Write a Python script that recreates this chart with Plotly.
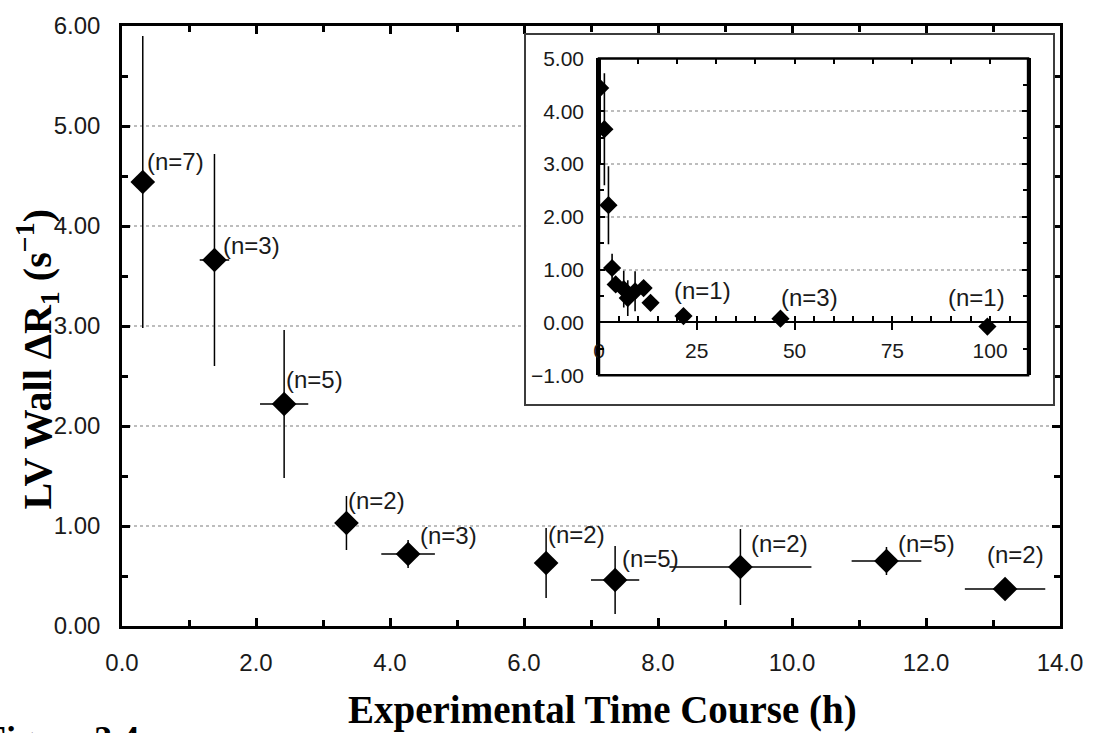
import plotly.graph_objects as go

# Canvas and main plot box (pixels)
W, H = 1095, 733
ML, MR, MT, MB = 122, 33, 16, 107
PW, PH = W - ML - MR, H - MT - MB


def paper_x(px):
    return (px - ML) / PW


def paper_y(py):
    return (H - MB - py) / PH


# LV wall ΔR1 over the experimental time course (mean ± SD)
time_h = [0.31, 1.38, 2.42, 3.35, 4.27, 6.33, 7.36, 9.23, 11.41, 13.18]
delta_r1 = [4.44, 3.66, 2.22, 1.03, 0.72, 0.63, 0.46, 0.59, 0.65, 0.37]
time_sd = [0.0, 0.22, 0.36, 0.0, 0.40, 0.0, 0.36, 1.06, 0.52, 0.60]
delta_r1_sd = [1.46, 1.06, 0.74, 0.27, 0.14, 0.35, 0.34, 0.38, 0.14, 0.04]
n_early = [7, 3, 5, 2, 3, 2, 5, 2, 5, 2]

# Late time points, shown only in the long-time-scale inset
late_time_h = [21.6, 46.4, 99.3]
late_delta_r1 = [0.12, 0.07, -0.08]
n_late = [1, 3, 1]

# label placement: (shift right of point to text start, lift of text centre), px
early_label_shift = [(2, 21), (7, 15), (0, 25), (0, 23), (10, 19),
                     (0, 29), (5, 22), (9, 24), (10, 18), (-20, 35)]
late_label_shift = [(-11, 26), (-1, 21), (-41, 29)]

SANS = "Liberation Sans, Arial, sans-serif"
SERIF = "Liberation Serif, Times New Roman, serif"
GRID = "#bdbdbd"

fig = go.Figure()

# main panel
fig.add_trace(go.Scatter(
    x=time_h, y=delta_r1, mode="markers",
    marker=dict(symbol="diamond", size=19, color="black"),
    error_y=dict(type="data", array=delta_r1_sd, width=0, thickness=1.5, color="black"),
    error_x=dict(type="data", array=time_sd, width=0, thickness=1.5, color="black"),
    showlegend=False, hoverinfo="skip", cliponaxis=False,
))

# inset frame (own subplot so its white background hides the main grid)
fig.add_trace(go.Scatter(x=[], y=[], xaxis="x2", yaxis="y2",
                         showlegend=False, hoverinfo="skip"))

# inset: all time points on the long time scale
inset_x = time_h + late_time_h
inset_y = delta_r1 + late_delta_r1
inset_xsd = time_sd + [0.0] * len(late_time_h)
inset_ysd = delta_r1_sd + [0.0] * len(late_time_h)
fig.add_trace(go.Scatter(
    x=inset_x, y=inset_y, mode="markers", xaxis="x3", yaxis="y3",
    marker=dict(symbol="diamond", size=14, color="black"),
    error_y=dict(type="data", array=inset_ysd, width=0, thickness=1.6, color="black"),
    error_x=dict(type="data", array=inset_xsd, width=0, thickness=1.6, color="black"),
    showlegend=False, hoverinfo="skip",
))
# carrier for the top tick row of the inset
fig.add_trace(go.Scatter(x=[], y=[], xaxis="x4", yaxis="y3",
                         showlegend=False, hoverinfo="skip"))

annotations = []
for xv, yv, n, (dx, dy) in zip(time_h, delta_r1, n_early, early_label_shift):
    annotations.append(dict(
        x=xv, y=yv, xref="x", yref="y", text=f"(n={n})", showarrow=False,
        xanchor="left", yanchor="middle", xshift=dx, yshift=dy,
        font=dict(family=SANS, size=24, color="#1a1a1a"),
    ))
for xv, yv, n, (dx, dy) in zip(late_time_h, late_delta_r1, n_late, late_label_shift):
    annotations.append(dict(
        x=xv, y=yv, xref="x3", yref="y3", text=f"(n={n})", showarrow=False,
        xanchor="left", yanchor="middle", xshift=dx, yshift=dy,
        font=dict(family=SANS, size=24, color="#1a1a1a"),
    ))

# axis titles
annotations.append(dict(
    x=paper_x(37), y=paper_y(355), xref="paper", yref="paper",
    text="<b>LV Wall ΔR<sub>1</sub> (s<sup>−1</sup>)</b>", textangle=-90,
    showarrow=False, xanchor="center", yanchor="middle",
    font=dict(family=SERIF, size=40, color="black"),
))
annotations.append(dict(
    x=paper_x(604), y=paper_y(711), xref="paper", yref="paper",
    text="<b>Experimental Time Course (h)</b>", showarrow=False,
    xanchor="center", yanchor="middle",
    font=dict(family=SERIF, size=39, color="black"),
))
# figure caption, running off the bottom edge
annotations.append(dict(
    x=paper_x(-18), y=paper_y(741), xref="paper", yref="paper",
    text="<b>Figure 3.4</b>", showarrow=False,
    xanchor="left", yanchor="middle",
    font=dict(family=SERIF, size=36, color="black"),
))

tick_font = dict(family=SANS, size=24, color="#1a1a1a")
inset_tick_font = dict(family=SANS, size=21, color="#1a1a1a")

# inset geometry (pixels)
FX0, FX1, FY0, FY1 = 527, 1055, 25, 400       # outer frame
IX0, IX1, IY0, IY1 = 600, 1030, 49, 371       # inset plot box
inset_zero_py = IY0 + (IY1 - IY0) * 5 / 6

fig.update_layout(
    width=W, height=H,
    margin=dict(l=ML, r=MR, t=MT, b=MB, pad=0),
    paper_bgcolor="white", plot_bgcolor="white",
    annotations=annotations,
    xaxis=dict(
        domain=[0, 1], range=[0, 14], dtick=2, tick0=0, tickformat=".1f",
        ticks="inside", ticklen=8, tickwidth=2.5, tickcolor="black",
        minor=dict(dtick=1, ticks="inside", ticklen=6, tickwidth=2.5, tickcolor="black", showgrid=False),
        showline=True, linecolor="black", linewidth=2.5, mirror="ticks",
        showgrid=False, zeroline=False, tickfont=tick_font, ticklabelstandoff=13,
    ),
    yaxis=dict(
        domain=[0, 1], range=[0, 6], dtick=1, tick0=0, tickformat=".2f",
        ticks="inside", ticklen=8, tickwidth=2.5, tickcolor="black",
        minor=dict(dtick=0.5, ticks="inside", ticklen=6, tickwidth=2.5, tickcolor="black", showgrid=False),
        showline=True, linecolor="black", linewidth=2.5, mirror="ticks",
        showgrid=True, gridcolor=GRID, griddash="dot", gridwidth=1.5,
        zeroline=False, tickfont=tick_font, ticklabelstandoff=14,
    ),
    xaxis2=dict(
        domain=[paper_x(FX0), paper_x(FX1)], anchor="y2", range=[0, 1],
        showline=True, mirror=True, linecolor="#3c3c3c", linewidth=2,
        showgrid=False, zeroline=False, showticklabels=False, ticks="",
    ),
    yaxis2=dict(
        domain=[paper_y(FY1), paper_y(FY0)], anchor="x2", range=[0, 1],
        showline=True, mirror=True, linecolor="#3c3c3c", linewidth=2,
        showgrid=False, zeroline=False, showticklabels=False, ticks="",
    ),
    xaxis3=dict(
        domain=[paper_x(IX0), paper_x(IX1)], anchor="free",
        position=paper_y(inset_zero_py), range=[0, 109.7],
        dtick=25, tick0=0, ticks="outside", ticklen=7, tickwidth=2, tickcolor="black",
        minor=dict(dtick=5, ticks="inside", ticklen=5, tickwidth=1.5, tickcolor="black", showgrid=False),
        showline=True, linecolor="black", linewidth=2, mirror=False,
        showgrid=False, zeroline=False, tickfont=inset_tick_font, ticklabelstandoff=2,
    ),
    xaxis4=dict(
        overlaying="x3", side="top", anchor="y3", range=[0, 109.7],
        dtick=10, tick0=0, ticks="inside", ticklen=6, tickwidth=2, tickcolor="black",
        showticklabels=False, showline=False, showgrid=False, zeroline=False,
    ),
    yaxis3=dict(
        domain=[paper_y(IY1), paper_y(IY0)], anchor="x3", range=[-1, 5],
        dtick=1, tick0=0, tickformat=".2f",
        ticks="inside", ticklen=6, tickwidth=2, tickcolor="black",
        minor=dict(dtick=0.5, ticks="inside", ticklen=5, tickwidth=1.5, tickcolor="black", showgrid=False),
        showline=True, linecolor="black", linewidth=2.5, mirror="ticks",
        showgrid=True, gridcolor=GRID, griddash="dot", gridwidth=1.5,
        zeroline=False, tickfont=inset_tick_font, ticklabelstandoff=8,
    ),
    shapes=[dict(
        type="rect", xref="x3 domain", yref="y3 domain", x0=0, x1=1, y0=0, y1=1,
        line=dict(color="black", width=2.5), fillcolor="rgba(0,0,0,0)", layer="above",
    )],
)

fig.write_html("out.html")
